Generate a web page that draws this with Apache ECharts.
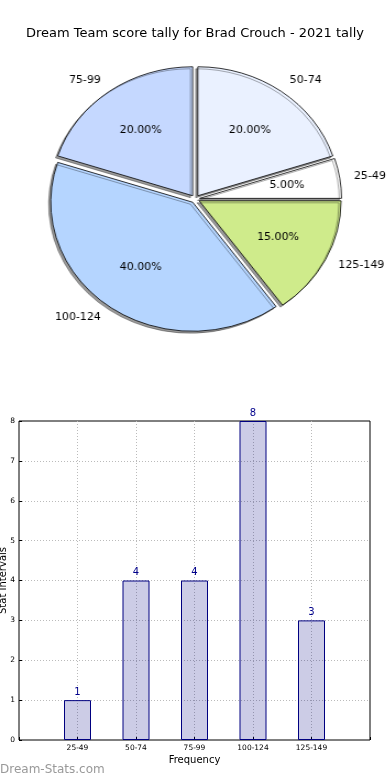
<!DOCTYPE html>
<html><head><meta charset="utf-8">
<script src="https://cdn.jsdelivr.net/npm/echarts@6/dist/echarts.min.js"></script>
<style>
html,body{margin:0;padding:0;background:#fff;width:390px;height:780px;overflow:hidden}
#pie{position:absolute;left:0;top:0;width:355px;height:360px;transform:scaleX(1.1);transform-origin:0 0}
#main{position:absolute;left:0;top:0;width:390px;height:780px}
</style></head><body>
<div id="pie"></div><div id="main"></div>
<script>
const chartTitle = 'Dream Team score tally for Brad Crouch - 2021 tally';
const categories = ['25-49', '50-74', '75-99', '100-124', '125-149'];
const counts = [1, 4, 4, 8, 3];
const pieLabels = ['75-99', '100-124', '125-149', '25-49', '50-74'];
const pieValues = [4, 8, 3, 1, 4];
const pieColors = ['#c5d8ff', '#b5d5ff', '#cfeb8b', '#ffffff', '#eaf1ff'];
const yTicks = [0, 1, 2, 3, 4, 5, 6, 7, 8];
const xAxisName = 'Frequency';
const yAxisName = 'Stat Intervals';
const watermark = 'Dream-Stats.com';

const FONT = 'DejaVu Sans';
const pieData = pieLabels.map((n, i) => ({ name: n, value: pieValues[i], selected: true, itemStyle: { color: pieColors[i] } }));
const pieData2 = pieLabels.map((n, i) => ({ name: n, value: pieValues[i], selected: true }));

const pie = echarts.init(document.getElementById('pie'));
pie.setOption({
  animation: false,
  series: [{
    type: 'pie', center: [177.5, 199], radius: [0, 129], clockwise: false, startAngle: 90,
    selectedMode: 'multiple', selectedOffset: 4, avoidLabelOverlap: false,
    data: pieData,
    itemStyle: { borderColor: '#000', borderWidth: 0.8, shadowColor: 'rgba(0,0,0,0.4)', shadowOffsetX: -2, shadowOffsetY: 2, shadowBlur: 0 },
    label: { show: true, position: 'outside', color: '#000', fontSize: 10, fontFamily: FONT, distanceToLabelLine: 0, formatter: '{b}' },
    labelLine: { show: false, length: 13, length2: 0 },
    emphasis: { disabled: true }, select: { itemStyle: { borderColor: '#000', borderWidth: 0.8 } }
  }, {
    type: 'pie', center: [177.5, 199], radius: [25.8, 129], clockwise: false, startAngle: 90,
    selectedMode: 'multiple', selectedOffset: 4, avoidLabelOverlap: false, silent: true,
    data: pieData2,
    itemStyle: { color: 'rgba(0,0,0,0)', borderWidth: 0 },
    label: { show: true, position: 'inside', color: '#000', fontSize: 10, fontFamily: FONT, formatter: p => p.percent.toFixed(2) + '%' },
    labelLine: { show: false },
    emphasis: { disabled: true }, select: { itemStyle: { color: 'rgba(0,0,0,0)', borderWidth: 0 } }
  }]
});

const main = echarts.init(document.getElementById('main'));
main.setOption({
  animation: false,
  title: [
    { text: chartTitle, left: 'center', top: 22, textStyle: { fontSize: 13, fontWeight: 'normal', fontFamily: FONT, color: '#000' } },
    { text: watermark, left: 0, top: 764, padding: 0, textStyle: { fontSize: 12, fontWeight: 'normal', fontFamily: FONT, color: '#999' } }
  ],
  grid: { left: 19, right: 20, top: 421, bottom: 40, containLabel: false, outerBoundsMode: 'none', show: true, borderColor: '#000', borderWidth: 1 },
  xAxis: {
    type: 'value', min: -1, max: 5, interval: 1,
    name: xAxisName, nameLocation: 'middle', nameGap: 15, nameMoveOverlap: false, nameTextStyle: { fontSize: 10, color: '#000', fontFamily: FONT },
    axisLine: { show: false, onZero: false },
    axisTick: { show: true, inside: true, length: 3, lineStyle: { color: '#000' } },
    axisLabel: { fontSize: 7.5, color: '#000', margin: 4, fontFamily: FONT, formatter: v => (categories[v] !== undefined ? categories[v] : '') },
    splitLine: { show: true, showMinLine: false, showMaxLine: false, lineStyle: { type: [1, 2], color: '#bbb' } }
  },
  yAxis: {
    type: 'value', min: yTicks[0], max: yTicks[yTicks.length - 1], interval: 1,
    name: yAxisName, nameLocation: 'middle', nameGap: 11, nameMoveOverlap: false, nameTextStyle: { fontSize: 10, color: '#000', fontFamily: FONT },
    axisLine: { show: false, onZero: false },
    axisTick: { show: true, inside: true, length: 3, lineStyle: { color: '#000' } },
    axisLabel: { fontSize: 7.5, color: '#000', margin: 4, fontFamily: FONT },
    splitLine: { show: true, showMinLine: false, showMaxLine: false, lineStyle: { type: [1, 2], color: '#bbb' } }
  },
  series: [{
    type: 'bar', data: categories.map((c, i) => [i, counts[i]]), barWidth: 27,
    itemStyle: { color: 'rgba(0,0,128,0.2)', borderColor: '#000080', borderWidth: 1 },
    label: { show: true, position: 'top', distance: 3, color: '#00008b', fontSize: 10, fontFamily: FONT }
  }]
});
</script>
</body></html>
